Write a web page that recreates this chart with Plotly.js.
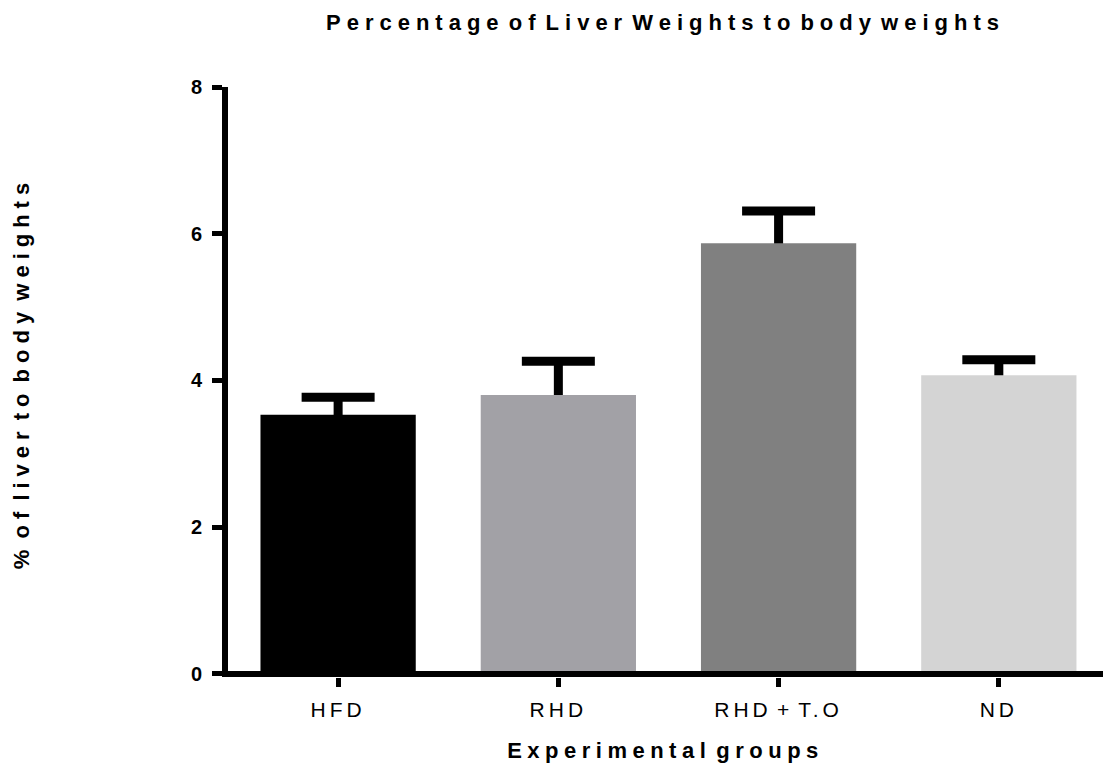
<!DOCTYPE html>
<html>
<head>
<meta charset="utf-8">
<script src="https://cdn.plot.ly/plotly-3.0.1.min.js"></script>
<style>
  html, body { margin: 0; padding: 0; background: #fff; }
  #chart { width: 1103px; height: 770px; }
  .gtitle { letter-spacing: 6px; word-spacing: -8px; }
  .ytitle { letter-spacing: 6px; word-spacing: -7px; translate: 0px -9px; }
  .xtitle { letter-spacing: 5.5px; word-spacing: -6.6px; }
  .xtick text { letter-spacing: 4px; word-spacing: -4.5px; }
</style>
</head>
<body>
<div id="chart"></div>
<script>
const categories = ["HFD", "RHD", "RHD + T.O", "ND"];
const meanValues = [3.53, 3.80, 5.87, 4.07];
const semValues = [0.24, 0.46, 0.44, 0.21];
const barColors = ["#000000", "#a2a1a6", "#808080", "#d4d4d4"];
const yTickValues = [0, 2, 4, 6, 8];
const yTickLabels = ["0", "2", "4", "6", "8"];

const FONT = "'Liberation Sans', Arial, sans-serif";

const errorTrace = {
  type: "bar",
  x: categories,
  y: meanValues,
  width: 0.705,
  marker: { color: "rgba(0,0,0,0)", line: { width: 0 } },
  error_y: {
    type: "data",
    array: semValues,
    symmetric: true,
    color: "#000000",
    thickness: 9,
    width: 36.5
  },
  hoverinfo: "skip",
  showlegend: false
};

const barTrace = {
  type: "bar",
  x: categories,
  y: meanValues,
  width: 0.705,
  marker: { color: barColors, line: { width: 0 } },
  showlegend: false
};

const layout = {
  width: 1103,
  height: 770,
  paper_bgcolor: "#ffffff",
  plot_bgcolor: "#ffffff",
  barmode: "overlay",
  margin: { l: 228, r: 0, t: 87, b: 93 },
  font: { family: FONT, color: "#000000" },
  title: {
    text: "Percentage of Liver Weights to body weights",
    font: { family: FONT, size: 22, weight: "bold", color: "#000000" },
    xref: "paper", x: 0.5, xanchor: "center",
    yref: "container", y: 1 - 22 / 770, yanchor: "middle"
  },
  xaxis: {
    type: "category",
    range: [-0.5, 3.473],
    showline: false,
    showgrid: false,
    zeroline: false,
    ticks: "outside",
    ticklen: 9,
    tickwidth: 5,
    tickcolor: "#000000",
    ticklabelstandoff: 5,
    tickfont: { family: FONT, size: 21, color: "#000000" },
    automargin: false,
    title: {
      text: "Experimental groups",
      font: { family: FONT, size: 22, weight: "bold", color: "#000000" },
      standoff: 22
    }
  },
  yaxis: {
    range: [-0.045, 8],
    tickvals: yTickValues,
    ticktext: yTickLabels,
    showline: true,
    linewidth: 6,
    linecolor: "#000000",
    showgrid: false,
    zeroline: true,
    zerolinewidth: 6,
    zerolinecolor: "#000000",
    zerolinelayer: "above traces",
    ticks: "outside",
    ticklen: 10,
    tickwidth: 5,
    tickcolor: "#000000",
    ticklabelstandoff: 6,
    tickfont: { family: FONT, size: 20, weight: "bold", color: "#000000" },
    automargin: false,
    title: {
      text: "% of liver to body weights",
      font: { family: FONT, size: 22, weight: "bold", color: "#000000" },
      standoff: 157
    }
  }
};

Plotly.newPlot("chart", [errorTrace, barTrace], layout, { displayModeBar: false, staticPlot: true });
</script>
</body>
</html>
